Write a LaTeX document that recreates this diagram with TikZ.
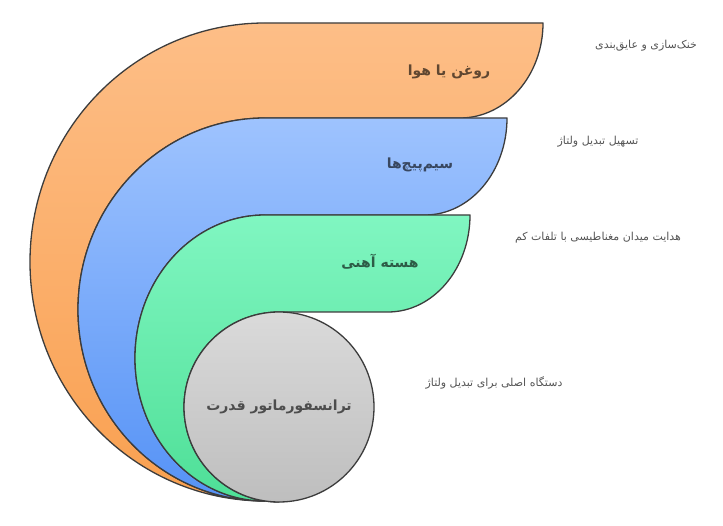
\documentclass[tikz,border=0pt]{standalone}
\usepackage{fontspec}
\setmainfont{DejaVu Sans}
\newfontfamily\fa[Script=Arabic]{DejaVu Sans}
\TeXXeTstate=1
\usetikzlibrary{shadings}
\definecolor{orTop}{RGB}{253,190,135}
\definecolor{orBot}{RGB}{249,160,80}
\definecolor{blTop}{RGB}{158,195,254}
\definecolor{blBot}{RGB}{85,146,246}
\definecolor{grTop}{RGB}{128,246,193}
\definecolor{grBot}{RGB}{78,223,151}
\definecolor{gyTop}{RGB}{218,218,218}
\definecolor{gyBot}{RGB}{190,190,190}
\definecolor{outc}{RGB}{60,60,60}
\definecolor{descc}{RGB}{85,85,85}
\begin{document}
\begin{tikzpicture}[x=1pt,y=1pt,
  outl/.style={draw=outc, line width=1.3pt, line join=round},
  lbl/.style={font=\fa\bfseries\fontsize{14}{17}\selectfont, text=black, text opacity=0.62},
  desc/.style={font=\fa\fontsize{11}{13}\selectfont, text=descc}]
\useasboundingbox (0,0) rectangle (723,525);
% outer layer: oil or air
\path[outl, top color=orTop, bottom color=orBot]
  (265,24) arc[start angle=270,end angle=90,x radius=235,y radius=239]
  -- (543,502) arc[start angle=0,end angle=-90,x radius=83,y radius=95]
  -- (265,407) arc[start angle=90,end angle=270,x radius=187,y radius=191.5] -- cycle;
% windings
\path[outl, top color=blTop, bottom color=blBot]
  (265,24) arc[start angle=270,end angle=90,x radius=187,y radius=191.5]
  -- (507,407) arc[start angle=0,end angle=-90,x radius=82,y radius=97]
  -- (265,310) arc[start angle=90,end angle=270,x radius=130,y radius=143] -- cycle;
% iron core
\path[outl, top color=grTop, bottom color=grBot]
  (265,24) arc[start angle=270,end angle=90,x radius=130,y radius=143]
  -- (470,310) arc[start angle=0,end angle=-90,x radius=82,y radius=97]
  -- (279,213) arc[start angle=90,end angle=270,radius=95] -- cycle;
% centre
\node[circle, outl, minimum size=190pt, inner sep=0pt, top color=gyTop, bottom color=gyBot, lbl] (core) at (279,118) {\beginR ترانسفورماتور قدرت\endR};
\node[lbl] (oil) at (449,453) {\beginR روغن یا هوا\endR};
\node[lbl] (wind) at (420,360) {\beginR سیم‌پیچ‌ها\endR};
\node[lbl] (iron) at (380,263) {\beginR هسته آهنی\endR};
\node[desc] (d1) at (646,479) {\beginR خنک‌سازی و عایق‌بندی\endR};
\node[desc] (d2) at (598,383) {\beginR تسهیل تبدیل ولتاژ\endR};
\node[desc] (d3) at (598,287) {\beginR هدایت میدان مغناطیسی با تلفات کم\endR};
\node[desc] (d4) at (494,142) {\beginR دستگاه اصلی برای تبدیل ولتاژ\endR};
\end{tikzpicture}
\end{document}
